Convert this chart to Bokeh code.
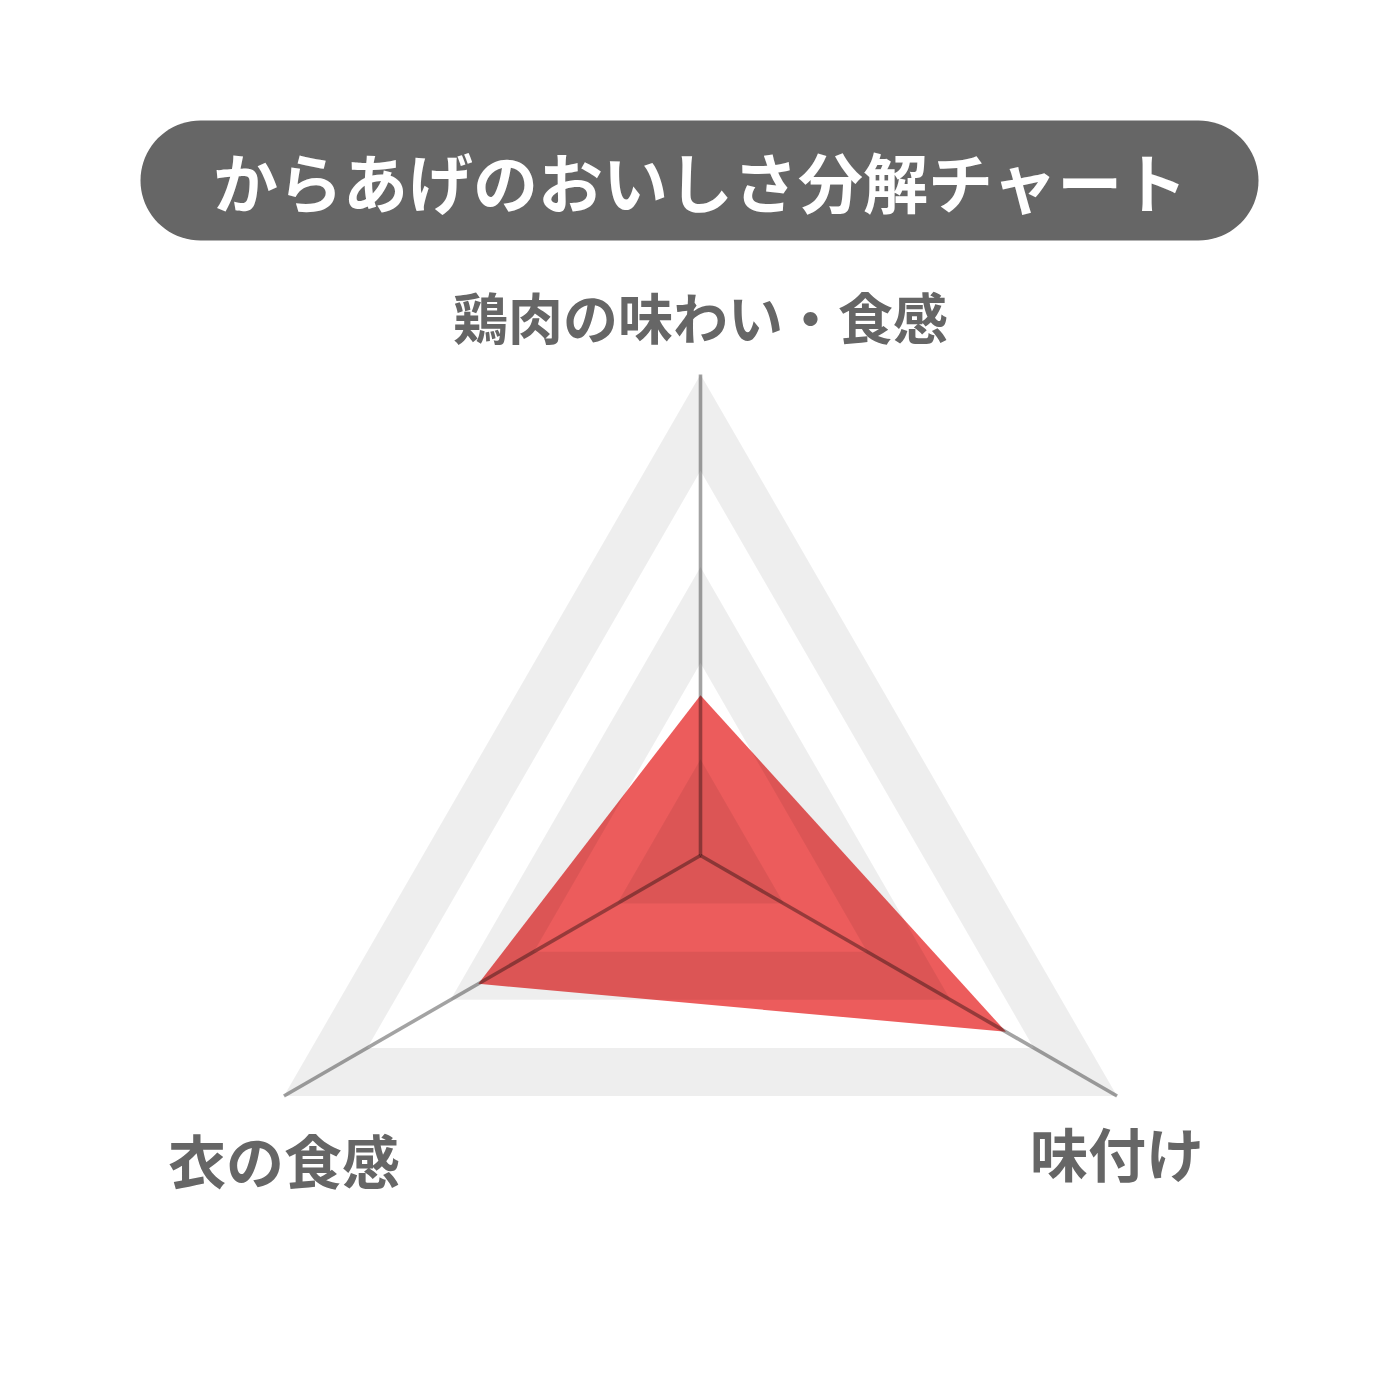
import math
from bokeh.plotting import figure
from bokeh.models import Range1d
from bokeh.core.properties import value
from bokeh.embed import file_html
from bokeh.resources import INLINE

# ---------------- data ----------------
title_text = "からあげのおいしさ分解チャート"
categories = ["鶏肉の味わい・食感", "味付け", "衣の食感"]
scores = [5, 11, 8]
max_score = 15
levels = [3, 6, 9, 12, 15]

# ---------------- layout ----------------
W = H = 1384
OFF = 0
CX, CY = 700, 855      # radar centre (page px)
R_PX = 481             # radius of max score (page px)
u = max_score / R_PX   # data units per px

FONT = value("Noto Sans CJK JP")
GREY_TXT = "#666666"
RED = "#EC5C5C"


def px(x, y):
    return ((x - CX) * u, (CY - y) * u)


x0, _ = px(OFF, 0)
x1, _ = px(OFF + W, 0)
_, y0 = px(0, OFF + H)
_, y1 = px(0, OFF)

p = figure(width=W, height=H, x_range=Range1d(x0, x1), y_range=Range1d(y0, y1),
           output_backend="svg", toolbar_location=None, min_border=0)
p.axis.visible = False
p.grid.visible = False
p.outline_line_color = None
p.background_fill_color = "white"
p.border_fill_color = "white"

n = len(categories)
angles = [2 * math.pi * i / n for i in range(n)]


def ring(r):
    return [r * math.sin(a) for a in angles], [r * math.cos(a) for a in angles]


# red data polygon (drawn first, bands/axes multiply over it)
dx = [s * math.sin(a) for s, a in zip(scores, angles)]
dy = [s * math.cos(a) for s, a in zip(scores, angles)]
p.patch(dx, dy, fill_color=RED, line_color=None)

# alternating grey bands (outermost band grey)
band_xs, band_ys = [], []
lv = [0] + levels
for k in range(len(levels), 0, -2):
    outer, inner = lv[k], lv[k - 1]
    ox, oy = ring(outer)
    if inner > 0:
        ix, iy = ring(inner)
        band_xs.append([[ox, ix[::-1]]])
        band_ys.append([[oy, iy[::-1]]])
    else:
        band_xs.append([[ox]])
        band_ys.append([[oy]])
p.multi_polygons(xs=band_xs, ys=band_ys, fill_color="black", fill_alpha=17 / 255,
                 line_color=None)

# axis spokes
vx, vy = ring(max_score)
p.segment(x0=[0] * n, y0=[0] * n, x1=vx, y1=vy, line_color="black",
          line_alpha=92 / 255, line_width=3.6)

# category labels
label_offsets = [(0, -60), (0, 56), (0, 63)]
label_sizes = ["55px", "58px", "58px"]
lx, ly = [], []
for (x, y), (ox, oy) in zip(zip(vx, vy), label_offsets):
    lx.append(x + ox * u)
    ly.append(y - oy * u)
p.text(x=lx, y=ly, text=categories, text_font=FONT, text_font_style="bold",
       text_font_size=label_sizes, text_color=GREY_TXT, text_align="center",
       text_baseline="middle")

# title pill
tl, tr, tt, tb = 140, 1258, 120, 240
rad = (tb - tt) / 2
pxs, pys = [], []
for i in range(41):
    a = -math.pi / 2 + math.pi * i / 40
    pxs.append(tr - rad + rad * math.cos(a))
    pys.append((tt + tb) / 2 + rad * math.sin(a))
for i in range(41):
    a = math.pi / 2 + math.pi * i / 40
    pxs.append(tl + rad + rad * math.cos(a))
    pys.append((tt + tb) / 2 + rad * math.sin(a))
pill = [px(a, b) for a, b in zip(pxs, pys)]
p.patch([q[0] for q in pill], [q[1] for q in pill], fill_color="#666666", line_color=None)

tx, ty = px(700, 179)
p.text(x=[tx], y=[ty], text=[title_text], text_font=FONT, text_font_style="bold",
       text_font_size="65px", text_color="white", text_align="center",
       text_baseline="middle")

open("out.html", "w").write(file_html(p, INLINE))
